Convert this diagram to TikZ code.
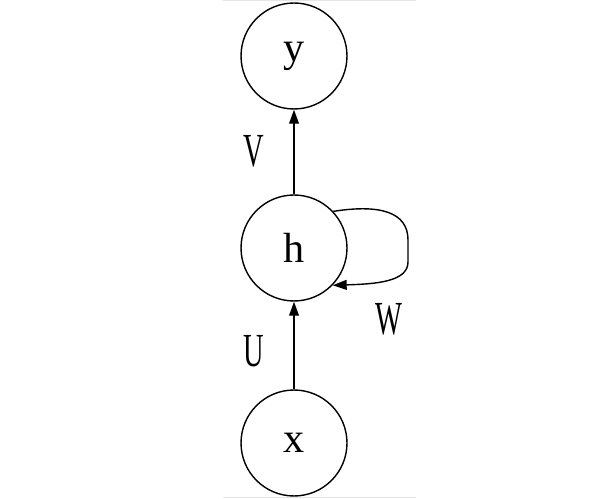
\documentclass[tikz,border=0pt]{standalone}
\usepackage{fontspec}
\setmainfont{Liberation Serif}
\usetikzlibrary{arrows.meta}
\begin{document}
\begin{tikzpicture}[x=0.02cm, y=-0.02cm,
  unit/.style={circle, draw, line width=0.8pt, minimum size=2.12cm, inner sep=0pt, font=\fontsize{24}{24}\selectfont},
  wlabel/.style={font=\fontsize{27}{27}\selectfont},
  link/.style={line width=0.8pt, -{Triangle[length=8pt, width=5.6pt]}}]
\useasboundingbox (0,0) rectangle (601,499);
\draw[black!10, line width=0.6pt] (223,0.6) -- (416,0.6);
\draw[black!10, line width=0.6pt] (223,497.6) -- (416,497.6);
\node[unit] (out) at (294,56){y};
\node[unit] (hid) at (294,248){h};
\node[unit] (inp) at (294,443){x};
\node[wlabel] (lv) at (254,151){\scalebox{0.6}[1]{V}};
\node[wlabel] (lu) at (254,351){\scalebox{0.6}[1]{U}};
\node[wlabel] (lw) at (389,319){\scalebox{0.6}[1]{W}};
\draw[link](inp) -- (hid);
\draw[link](hid) -- (out);
\draw[link](hid.43) .. controls (380,204) and (408,212) .. (408,240)
  -- (408,262) .. controls (408,282) and (375,284) .. (hid.-44);

\end{tikzpicture}
\end{document}
